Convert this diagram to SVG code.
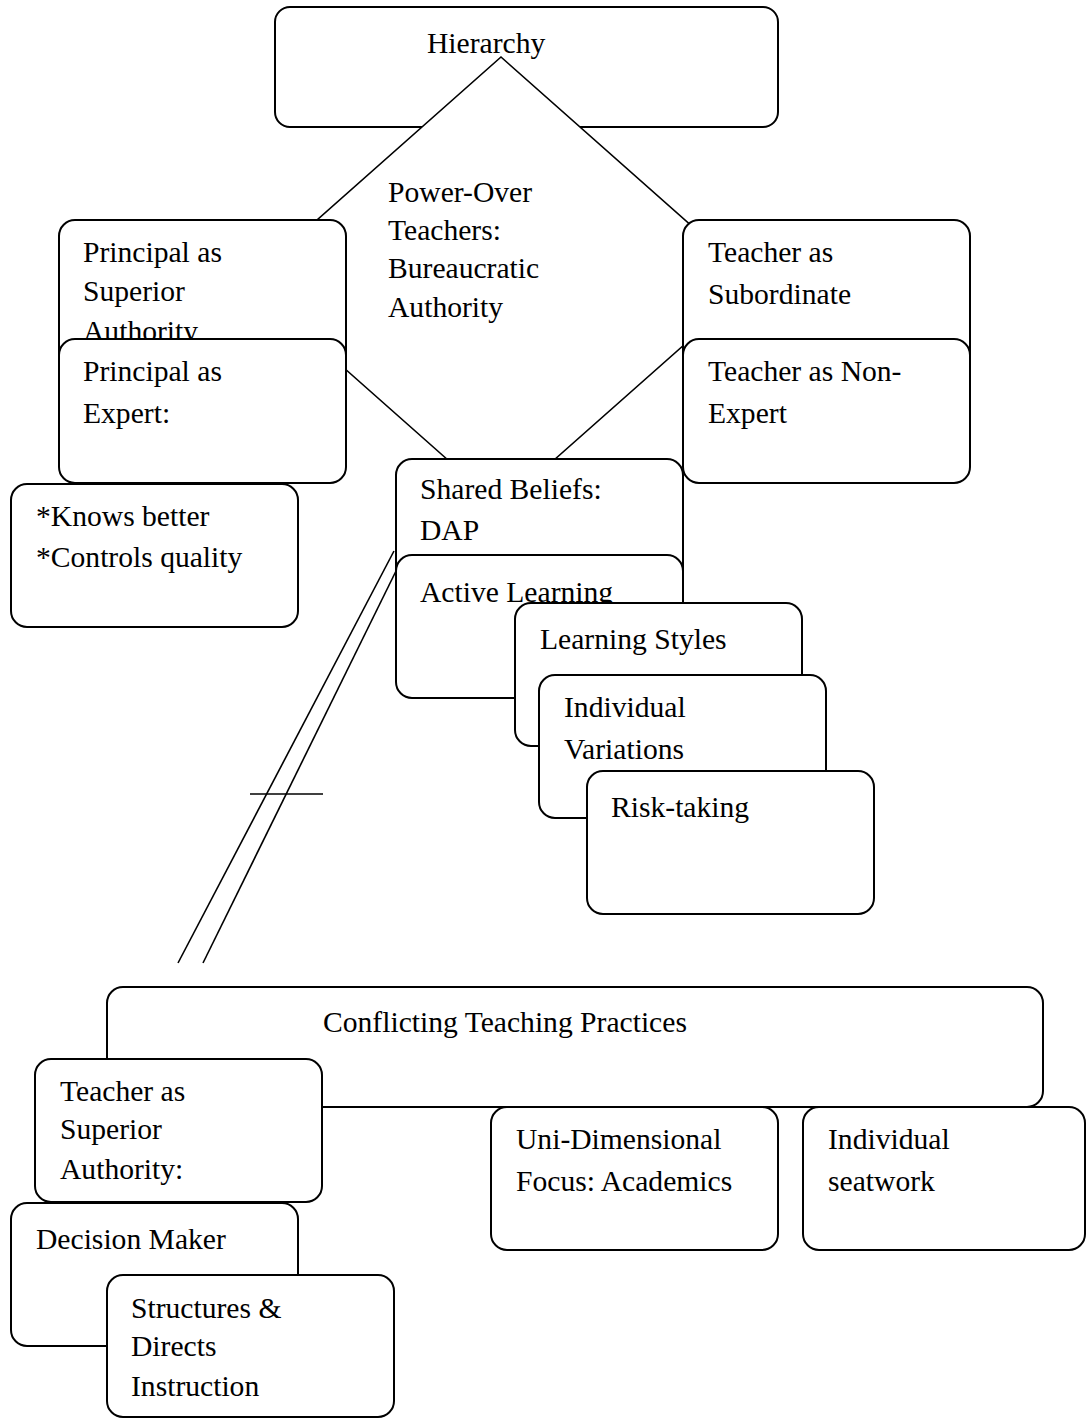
<svg xmlns="http://www.w3.org/2000/svg" width="1086" height="1418" viewBox="0 0 1086 1418">
<style>
  .box { fill: #ffffff; stroke: #000000; stroke-width: 2; }
  .dia { fill: #ffffff; stroke: #000000; stroke-width: 1.6; }
  .ln { fill: none; stroke: #000000; stroke-width: 1.6; }
  text { font-family: "Liberation Serif", "Times New Roman", serif; font-size: 29.6px; fill: #000000; }
</style>
<rect width="1086" height="1418" fill="#ffffff"/>

<g id="connectors">
  <line class="ln" x1="394" y1="551" x2="178" y2="963"/>
  <line class="ln" x1="397" y1="569" x2="203" y2="963"/>
  <line class="ln" x1="250" y1="794" x2="323" y2="794"/>
</g>

<g id="hierarchy">
  <rect class="box" x="275" y="7" width="503" height="120" rx="15"/>
  <text x="427" y="53">Hierarchy</text>
</g>

<g id="power-over">
  <polygon class="dia" points="501,57 755,282 501,507 247,282"/>
  <text x="388" y="202">Power-Over</text>
  <text x="388" y="240">Teachers:</text>
  <text x="388" y="278">Bureaucratic</text>
  <text x="388" y="317">Authority</text>
</g>

<g id="principal-superior">
  <rect class="box" x="59" y="220" width="287" height="170" rx="16"/>
  <text x="83" y="262">Principal as</text>
  <text x="83" y="301">Superior</text>
  <text x="83" y="341">Authority</text>
</g>

<g id="principal-expert">
  <rect class="box" x="59" y="339" width="287" height="144" rx="16"/>
  <text x="83" y="381">Principal as</text>
  <text x="83" y="423">Expert:</text>
</g>

<g id="knows-better">
  <rect class="box" x="11" y="484" width="287" height="143" rx="16"/>
  <text x="36" y="526">*Knows better</text>
  <text x="36" y="567">*Controls quality</text>
</g>

<g id="teacher-subordinate">
  <rect class="box" x="683" y="220" width="287" height="170" rx="16"/>
  <text x="708" y="262">Teacher as</text>
  <text x="708" y="304">Subordinate</text>
</g>

<g id="teacher-non-expert">
  <rect class="box" x="683" y="339" width="287" height="144" rx="16"/>
  <text x="708" y="381">Teacher as Non-</text>
  <text x="708" y="423">Expert</text>
</g>

<g id="shared-beliefs">
  <rect class="box" x="396" y="459" width="287" height="170" rx="16"/>
  <text x="420" y="499">Shared Beliefs:</text>
  <text x="420" y="540">DAP</text>
</g>

<g id="active-learning">
  <rect class="box" x="396" y="555" width="287" height="143" rx="16"/>
  <text x="420" y="602">Active Learning</text>
</g>

<g id="learning-styles">
  <rect class="box" x="515" y="603" width="287" height="143" rx="16"/>
  <text x="540" y="649">Learning Styles</text>
</g>

<g id="individual-variations">
  <rect class="box" x="539" y="675" width="287" height="143" rx="16"/>
  <text x="564" y="717">Individual</text>
  <text x="564" y="759">Variations</text>
</g>

<g id="risk-taking">
  <rect class="box" x="587" y="771" width="287" height="143" rx="16"/>
  <text x="611" y="817">Risk-taking</text>
</g>

<g id="conflicting">
  <rect class="box" x="107" y="987" width="936" height="120" rx="16"/>
  <text x="323" y="1032">Conflicting Teaching Practices</text>
</g>

<g id="teacher-superior">
  <rect class="box" x="35" y="1059" width="287" height="143" rx="16"/>
  <text x="60" y="1101">Teacher as</text>
  <text x="60" y="1139">Superior</text>
  <text x="60" y="1179">Authority:</text>
</g>

<g id="decision-maker">
  <rect class="box" x="11" y="1203" width="287" height="143" rx="16"/>
  <text x="36" y="1249">Decision Maker</text>
</g>

<g id="structures">
  <rect class="box" x="107" y="1275" width="287" height="142" rx="16"/>
  <text x="131" y="1318">Structures &amp;</text>
  <text x="131" y="1356">Directs</text>
  <text x="131" y="1396">Instruction</text>
</g>

<g id="uni-dimensional">
  <rect class="box" x="491" y="1107" width="287" height="143" rx="16"/>
  <text x="516" y="1149">Uni-Dimensional</text>
  <text x="516" y="1191">Focus: Academics</text>
</g>

<g id="individual-seatwork">
  <rect class="box" x="803" y="1107" width="282" height="143" rx="16"/>
  <text x="828" y="1149">Individual</text>
  <text x="828" y="1191">seatwork</text>
</g>
</svg>
